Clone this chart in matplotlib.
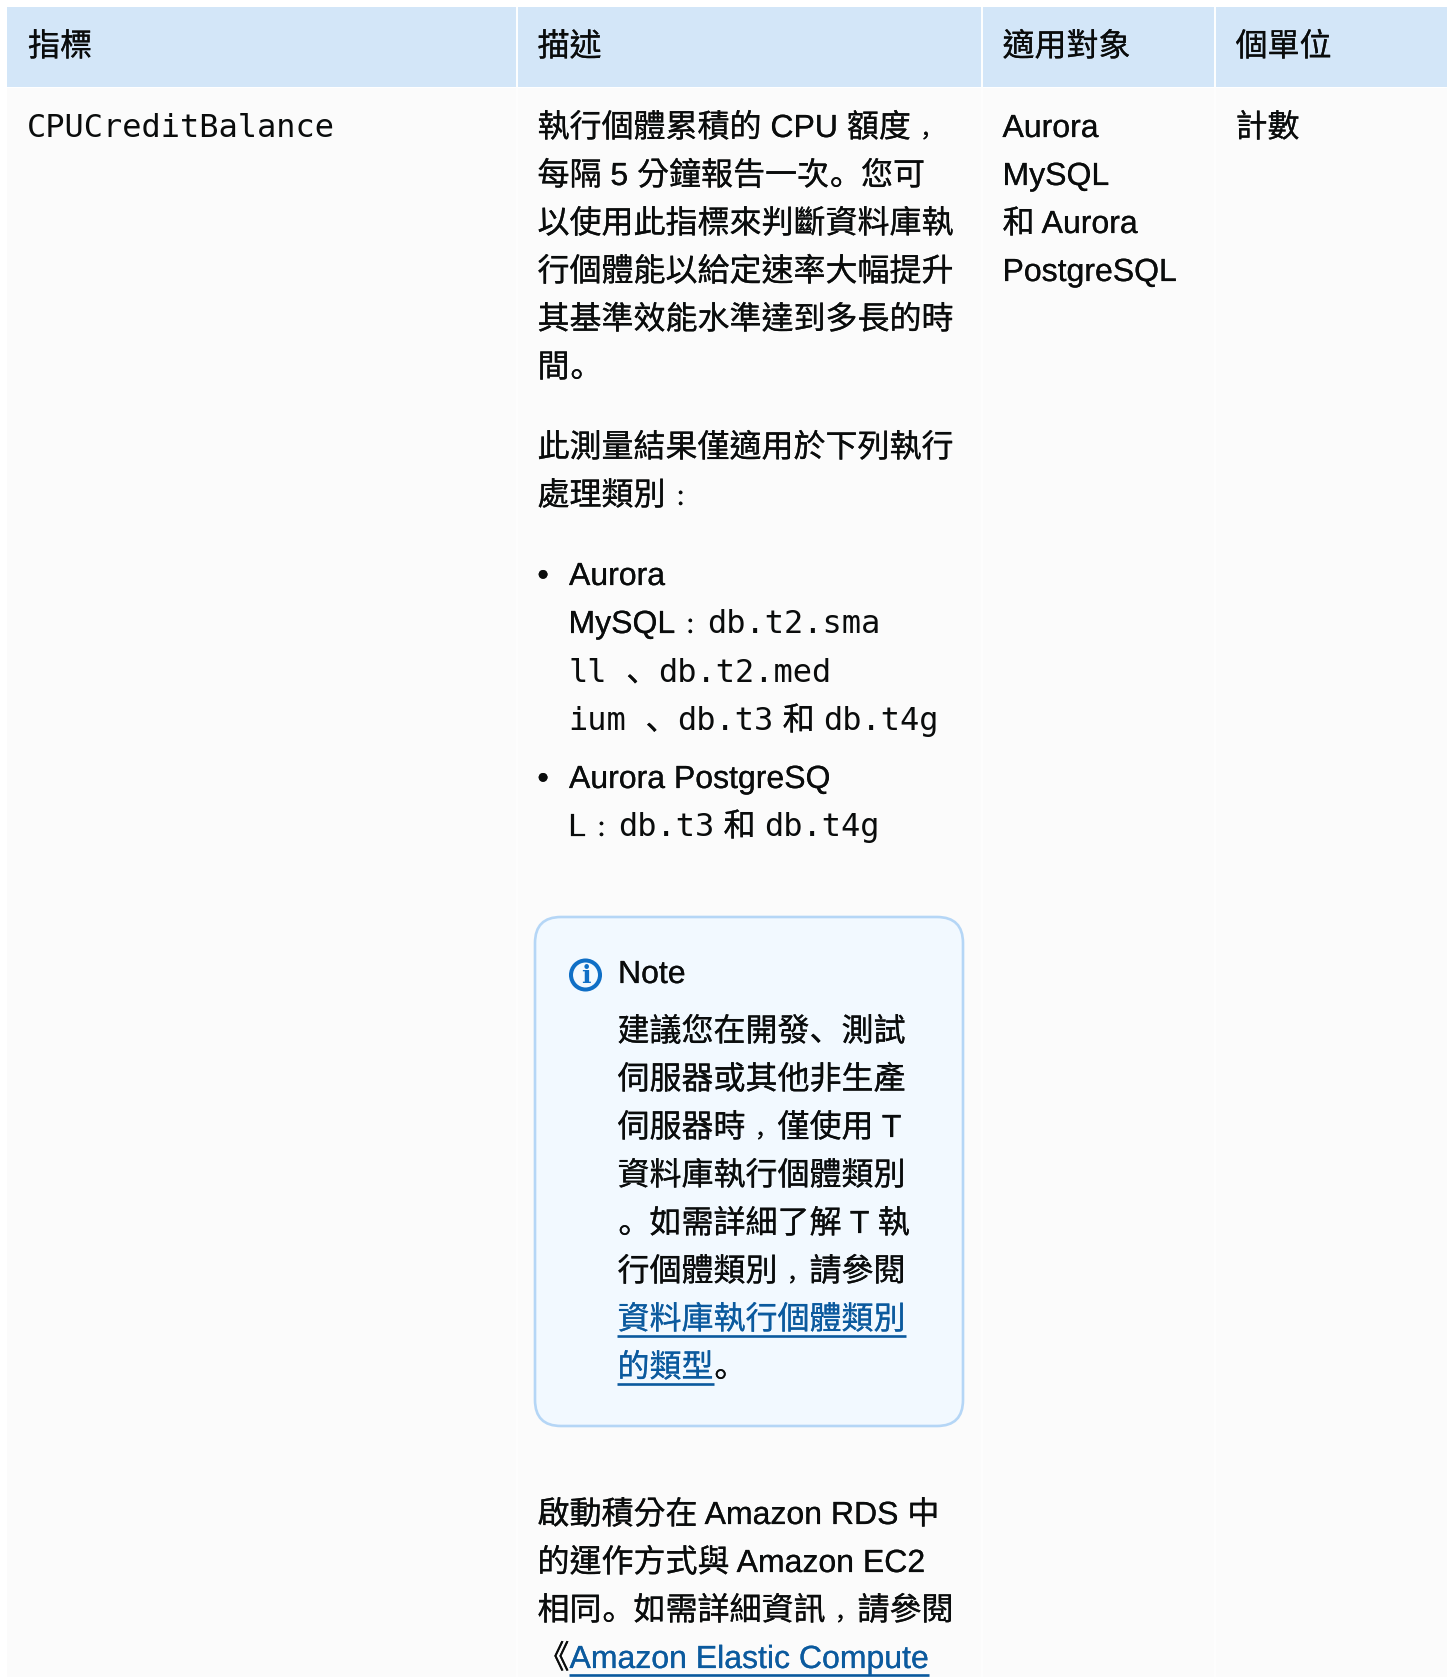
import matplotlib
matplotlib.use("Agg")
import matplotlib.pyplot as plt
import matplotlib.patheffects as pe
from matplotlib.patches import Circle, FancyBboxPatch, Rectangle

# table text, each line is a list of (text, kind) runs
# kinds: s = sans, m = monospace, l = link
headers = ["指標", "描述", "適用對象", "個單位"]
metric = [[("CPUCreditBalance", "m")]]
para1 = [
    [("執行個體累積的 CPU 額度，", "s")],
    [("每隔 5 分鐘報告一次。您可", "s")],
    [("以使用此指標來判斷資料庫執", "s")],
    [("行個體能以給定速率大幅提升", "s")],
    [("其基準效能水準達到多長的時", "s")],
    [("間。", "s")],
]
para2 = [
    [("此測量結果僅適用於下列執行", "s")],
    [("處理類別：", "s")],
]
bullet1 = [
    [("Aurora", "s")],
    [("MySQL：", "s"), ("db.t2.sma", "m")],
    [("ll", "m"), (" ", "m"), ("、", "s"), ("db.t2.med", "m")],
    [("ium", "m"), (" ", "m"), ("、", "s"), ("db.t3", "m"), (" 和 ", "s"), ("db.t4g", "m")],
]
bullet2 = [
    [("Aurora PostgreSQ", "s")],
    [("L：", "s"), ("db.t3", "m"), (" 和 ", "s"), ("db.t4g", "m")],
]
note_title = "Note"
note_lines = [
    [("建議您在開發、測試", "s")],
    [("伺服器或其他非生產", "s")],
    [("伺服器時，僅使用 T", "s")],
    [("資料庫執行個體類別", "s")],
    [("。如需詳細了解 T 執", "s")],
    [("行個體類別，請參閱", "s")],
    [("資料庫執行個體類別", "l")],
    [("的類型", "l"), ("。", "s")],
]
para3 = [
    [("啟動積分在 Amazon RDS 中", "s")],
    [("的運作方式與 Amazon EC2", "s")],
    [("相同。如需詳細資訊，請參閱", "s")],
    [("《", "s"), ("Amazon Elastic Compute", "l")],
]
applies = [
    [("Aurora", "s")],
    [("MySQL", "s")],
    [("和 Aurora", "s")],
    [("PostgreSQL", "s")],
]
unit = [[("計數", "s")]]

W, H = 1448, 1677
FS = 32 * 0.72
SANS = ["Liberation Sans", "Noto Sans CJK TC"]
SANS_P = ["Noto Sans CJK SC"]
MONO = ["DejaVu Sans Mono", "Noto Sans CJK TC"]
INK = "#0a0c0c"
LINK = "#0b5a9e"
# full width signs sit low in the original, SC glyphs nudged into the cell
PUNCT_DX = {"。": 1, "、": 0, "，": 9.5, "：": 9.5}
SMALL_PUNCT = "，："

fig = plt.figure(figsize=(W / 100, H / 100), dpi=100, facecolor="white")
ax = fig.add_axes([0, 0, 1, 1])
ax.set_xlim(0, W)
ax.set_ylim(H, 0)
ax.axis("off")

col_edges = [7, 516, 981, 1214, 1447]
col_text_x = [27, 537.5, 1002.5, 1235.5]

ax.add_patch(Rectangle((7, 88), 1440, H - 88, fc="#fbfbfb", ec="none"))
ax.add_patch(Rectangle((7, 7), 1440, 80, fc="#d3e6f8", ec="none"))
for x in col_edges[1:-1]:
    ax.plot([x + 0.5, x + 0.5], [7, 87], color="white", lw=1.4)
    ax.plot([x + 0.5, x + 0.5], [88, H], color="#fefefe", lw=1.4)

renderer = fig.canvas.get_renderer()


def run_width(text, family):
    a = ax.text(0, 0, text + "|", fontsize=FS, family=family)
    b = ax.text(0, 0, "|", fontsize=FS, family=family)
    w = a.get_window_extent(renderer).width - b.get_window_extent(renderer).width
    a.remove()
    b.remove()
    return w


def split_punct(text):
    parts = []
    cur = ""
    for ch in text:
        if ch in PUNCT_DX:
            if cur:
                parts.append((cur, SANS))
            parts.append((ch, SANS_P))
            cur = ""
        else:
            cur += ch
    if cur:
        parts.append((cur, SANS))
    return parts


def draw_line(x, y, runs):
    for text, kind in runs:
        if kind == "m":
            parts = [(text, MONO)]
        else:
            parts = split_punct(text)
        start = x
        color = LINK if kind == "l" else INK
        for part, family in parts:
            size = FS * 0.7 if part in SMALL_PUNCT else FS
            t = ax.text(x + PUNCT_DX.get(part, 0), y, part, fontsize=size, family=family,
                        color=color, va="baseline", ha="left")
            if kind != "m":
                t.set_path_effects([pe.withStroke(linewidth=0.15, foreground=color)])
            x += run_width(part, family)
        if kind == "l":
            ax.plot([start - 1, x], [y + 7, y + 7], color=LINK, lw=1.9, solid_capstyle="butt")


def draw_block(x, y, lines, step=48):
    for i, runs in enumerate(lines):
        draw_line(x, y + i * step, runs)


# note box goes under its text
ax.add_patch(FancyBboxPatch((535 + 26, 917 + 26), 428 - 52, 509 - 52,
                            boxstyle="round,pad=26,rounding_size=26",
                            fc="#f2f9ff", ec="#b5d6f6", lw=1.9))
ax.add_patch(Circle((585.5, 975), 14.5, fc="none", ec="#0f6fc6", lw=2.9))
ax.text(585.5, 976, "i", fontsize=18, family="DejaVu Serif", fontweight="bold",
        color="#0f6fc6", ha="center", va="center")

draw_line(28, 56, [(headers[0], "s")])
for x, label in zip(col_text_x[1:], headers[1:]):
    draw_line(x, 56, [(label, "s")])

draw_block(col_text_x[0], 137, metric)
draw_block(col_text_x[1], 137, para1)
draw_block(col_text_x[1], 457, para2)
draw_line(col_text_x[1], 585, [("•", "s")])
draw_block(569, 585, bullet1[:1])
draw_block(568.5, 633, bullet1[1:], step=48.5)
draw_line(col_text_x[1], 788, [("•", "s")])
draw_block(569, 788, bullet2[:1])
draw_block(568.5, 836, bullet2[1:])
draw_line(618, 983, [(note_title, "s")])
draw_block(617.5, 1041, note_lines)
draw_block(col_text_x[1], 1524, para3)
draw_block(col_text_x[2], 137, applies)
draw_block(col_text_x[3], 137, unit)

plt.savefig("out.png", dpi=100)
